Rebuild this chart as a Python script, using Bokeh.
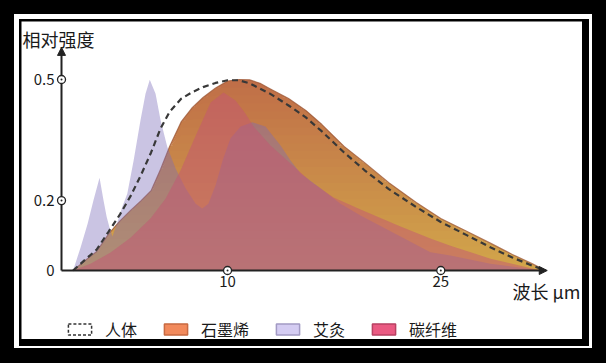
from bokeh.plotting import figure
from bokeh.models import Range1d, FixedTicker, Legend, LegendItem, Label, Arrow, NormalHead
from bokeh.layouts import column
from bokeh.embed import file_html
from bokeh.resources import INLINE

# ---------------- data ----------------
# wavelength (um) / relative intensity
human_wl = [5.15, 5.4, 5.7, 6.0, 6.3, 6.6, 6.9, 7.2, 7.5, 7.8, 8.2, 8.6, 9.0, 9.5, 10, 10.5, 11,
            11.5, 12, 13, 14, 15, 16.5, 18, 20, 22.5, 25, 28, 31, 34, 37, 39.2]
human_val = [0, 0.026, 0.055, 0.102, 0.147, 0.196, 0.251, 0.309, 0.372, 0.416, 0.450, 0.467,
             0.480, 0.491, 0.498, 0.498, 0.490, 0.476, 0.463, 0.432, 0.401, 0.364, 0.309,
             0.263, 0.213, 0.166, 0.127, 0.092, 0.060, 0.034, 0.013, 0]

graphene_wl = human_wl
graphene_val = [0, 0.024, 0.050, 0.096, 0.130, 0.158, 0.183, 0.209, 0.265, 0.325, 0.390, 0.427,
                0.453, 0.478, 0.496, 0.500, 0.499, 0.490, 0.476, 0.450, 0.419, 0.382, 0.325,
                0.283, 0.230, 0.178, 0.136, 0.102, 0.071, 0.042, 0.018, 0]

moxa_wl = [5.15, 5.32, 5.48, 5.62, 5.77, 5.87, 5.95, 6.02, 6.10, 6.23, 6.36, 6.50, 6.68, 6.88,
           7.03, 7.16, 7.34, 7.50, 7.72, 8.00, 8.35, 8.72, 8.97, 9.21, 9.50, 9.79, 10.13, 10.58,
           11.13, 11.77, 12.56, 13.11, 13.69, 14.91, 16.25, 17.71, 21.03, 23.91, 26.06, 30.95,
           38.37]
moxa_val = [0, 0.061, 0.122, 0.183, 0.243, 0.183, 0.140, 0.113, 0.089, 0.126, 0.166, 0.201,
            0.288, 0.393, 0.463, 0.499, 0.463, 0.393, 0.323, 0.267, 0.215, 0.175, 0.162, 0.175,
            0.223, 0.288, 0.346, 0.377, 0.388, 0.377, 0.327, 0.288, 0.254, 0.215, 0.175, 0.144,
            0.089, 0.048, 0.039, 0.018, 0]

carbon_wl = [5.14, 5.55, 6.05, 6.59, 7.18, 7.66, 8.17, 8.72, 9.30, 9.83, 10.35, 10.80, 11.18,
             12.03, 13.11, 14.29, 15.77, 17.71, 21.03, 23.91, 26.06, 30.95, 38.37]
carbon_val = [0, 0.018, 0.047, 0.086, 0.136, 0.188, 0.262, 0.353, 0.440, 0.466, 0.445, 0.411,
              0.377, 0.327, 0.280, 0.233, 0.191, 0.160, 0.115, 0.084, 0.065, 0.031, 0]

x_ticks = [10, 25]
x_tick_labels = ["10", "25"]
y_ticks = [0, 0.183, 0.5]
y_tick_labels = ["0", "0.2", "0.5"]

series_labels = ["人体", "石墨烯", "艾灸", "碳纤维"]
y_title = "相对强度"
x_title = "波长 μm"

# axis extents (data units)
x_axis_start, x_axis_end = 4.9, 39.5
y_axis_end = 0.584

FONT = "Noto Sans CJK SC"
INK = "#1a1a1a"
NAN = float("nan")

p = figure(width=561, height=318, x_axis_type="log",
           x_range=Range1d(4.126, 45.96), y_range=Range1d(-0.1806, 0.6518),
           output_backend="svg", toolbar_location=None, min_border=0,
           outline_line_color=None, background_fill_color="white",
           border_fill_color="white")
p.title.visible = False
p.grid.visible = False

# ---- graphene: vertical gradient fill built from bands ----
top_rgb = (192, 110, 72)
bot_rgb = (210, 166, 74)
nb = 24
vmax = max(graphene_val)
for i in range(nb):
    a = vmax * i / nb
    b = vmax * (i + 1) / nb
    t = (i + 0.5) / nb
    col = tuple(int(round(bot_rgb[k] + (top_rgb[k] - bot_rgb[k]) * t)) for k in range(3))
    y1 = [min(v, a) for v in graphene_val]
    y2 = [min(v, b + (0.004 if i < nb - 1 else 0)) for v in graphene_val]
    p.varea(x=graphene_wl, y1=y1, y2=y2, fill_color="#%02x%02x%02x" % col, fill_alpha=1.0)
p.line(graphene_wl, graphene_val, line_color="#9c5634", line_alpha=0.75, line_width=1.2)

# ---- moxibustion ----
p.patch(moxa_wl, moxa_val, fill_color="#7a6bba", fill_alpha=0.40, line_color=None)
# ---- carbon fiber ----
p.patch(carbon_wl, carbon_val, fill_color="#c45674", fill_alpha=0.5, line_color=None)
# ---- human body ----
p.line(human_wl, human_val, line_color="#383838", line_width=2.2, line_dash="6 4")

# ---- legend proxies (not visible in the plot area) ----
lg_h = p.patch(x=[NAN], y=[NAN], fill_color=None, line_color="#333333", line_dash="3 2",
               line_width=1.5)
lg_g = p.patch(x=[NAN], y=[NAN], fill_color="#f28a5c", line_color="#c86a42", line_width=1.5)
lg_m = p.patch(x=[NAN], y=[NAN], fill_color="#d4ccf2", line_color="#a29ac4", line_width=1.5)
lg_c = p.patch(x=[NAN], y=[NAN], fill_color="#ea5a82", line_color="#b84263", line_width=1.5)

legend = Legend(items=[LegendItem(label=series_labels[0], renderers=[lg_h]),
                       LegendItem(label=series_labels[1], renderers=[lg_g]),
                       LegendItem(label=series_labels[2], renderers=[lg_m]),
                       LegendItem(label=series_labels[3], renderers=[lg_c])],
                orientation="horizontal", location=(44, -2), padding=0, margin=0,
                spacing=24, glyph_width=29, glyph_height=14, label_height=14,
                label_standoff=11, label_text_font=FONT, label_text_font_size="16px",
                label_text_color=INK, border_line_color=None, background_fill_alpha=0)
p.add_layout(legend)

# ---- axes ----
xa = p.xaxis[0]
xa.fixed_location = 0
xa.bounds = (x_axis_start, x_axis_end * 0.985)
xa.ticker = FixedTicker(ticks=x_ticks)
xa.major_label_overrides = dict(zip(x_ticks, x_tick_labels))
ya = p.yaxis[0]
ya.fixed_location = x_axis_start
ya.bounds = (0, y_axis_end * 0.985)
ya.ticker = FixedTicker(ticks=y_ticks)
ya.major_label_overrides = dict(zip(y_ticks, y_tick_labels))
for ax in (xa, ya):
    ax.axis_line_color = "#222222"
    ax.axis_line_width = 2
    ax.major_tick_line_color = None
    ax.minor_tick_line_color = None
    ax.major_tick_out = 0
    ax.major_tick_in = 0
    ax.major_label_text_font = FONT
    ax.major_label_text_font_size = "15px"
    ax.major_label_text_color = INK
xa.major_label_standoff = 5
ya.major_label_standoff = 7

# tick markers
p.scatter(x=x_ticks, y=[0] * len(x_ticks), marker="circle_dot", size=8, line_width=1.3,
          line_color="#222222", fill_color="white", level="annotation")
p.scatter(x=[x_axis_start] * 2, y=y_ticks[1:], marker="circle_dot", size=8, line_width=1.3,
          line_color="#222222", fill_color="white", level="annotation")

# arrow heads
p.add_layout(Arrow(end=NormalHead(size=8, fill_color="#222222", line_color="#222222"),
                   x_start=x_axis_end * 0.97, y_start=0, x_end=x_axis_end, y_end=0,
                   line_color="#222222", line_width=2))
p.add_layout(Arrow(end=NormalHead(size=8, fill_color="#222222", line_color="#222222"),
                   x_start=x_axis_start, y_start=y_axis_end * 0.97, x_end=x_axis_start,
                   y_end=y_axis_end, line_color="#222222", line_width=2))

# titles
p.add_layout(Label(x=1, y=314, x_units="screen", y_units="screen", text=y_title,
                   text_font=FONT, text_font_size="18px", text_color=INK,
                   text_baseline="top"))
p.add_layout(Label(x=491, y=62, x_units="screen", y_units="screen", text=x_title,
                   text_font=FONT, text_font_size="18px", text_color=INK,
                   text_baseline="top"))

# ---- frame (white card with black border on black page) ----
p.margin = (2, 7, 7, 2)
band = column(p, margin=(5, 3, 2, 5), styles={"background-color": "#000000"})
ring = column(band, margin=(14, 14, 15, 14), styles={"background-color": "#ffffff"})
root = column(ring, styles={"background-color": "#000000"})

open("out.html", "w").write(file_html(root, INLINE))
